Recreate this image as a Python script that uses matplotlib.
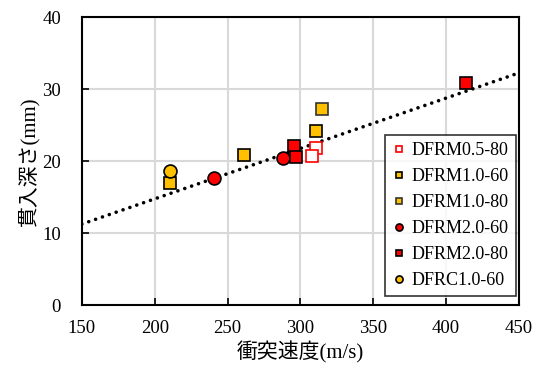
import matplotlib
matplotlib.use("Agg")
import matplotlib.pyplot as plt
import numpy as np

# Impact velocity (m/s) and penetration depth (mm) per specimen series
dfrm05_80_v = [310.5, 308.0]
dfrm05_80_d = [21.8, 20.7]
dfrm10_60_v = [210.5, 261.0, 311.0]
dfrm10_60_d = [17.0, 20.9, 24.2]
dfrm10_80_v = [315.0]
dfrm10_80_d = [27.2]
dfrm20_60_v = [240.5, 288.3]
dfrm20_60_d = [17.7, 20.4]
dfrm20_80_v = [295.5, 296.8, 414.0]
dfrm20_80_d = [22.1, 20.5, 30.9]
dfrc10_60_v = [210.5]
dfrc10_60_d = [18.6]

# Linear trend line coefficients (depth = slope * velocity + intercept)
trend_slope = 0.0700
trend_intercept = 0.75
trend_range = [150, 450]

xticks = [150, 200, 250, 300, 350, 400, 450]
yticks = [0, 10, 20, 30, 40]

plt.rcParams['font.family'] = ['Liberation Serif', 'Noto Sans CJK JP']

fig = plt.figure(figsize=(5.35, 3.72), dpi=100)
ax = fig.add_axes([0.153, 0.180, 0.817, 0.774])

yellow = '#FFC000'
red = '#FF0000'

tx = np.array(trend_range, dtype=float)
ax.plot(tx, trend_slope * tx + trend_intercept, color='black', linestyle=(0, (0.01, 2.0)),
        linewidth=2.6, dash_capstyle='round', zorder=2)

ms = 8.5
ax.plot(dfrm05_80_v, dfrm05_80_d, 's', ms=ms, mfc='white', mec=red, mew=1.2,
        label='DFRM0.5-80', zorder=3)
ax.plot(dfrm10_60_v, dfrm10_60_d, 's', ms=ms, mfc=yellow, mec='black', mew=1.2,
        label='DFRM1.0-60', zorder=3)
ax.plot(dfrm10_80_v, dfrm10_80_d, 's', ms=ms, mfc=yellow, mec='#333333', mew=1.2,
        label='DFRM1.0-80', zorder=3)
ax.plot(dfrm20_60_v, dfrm20_60_d, 'o', ms=ms + 0.8, mfc=red, mec='black', mew=1.2,
        label='DFRM2.0-60', zorder=3)
ax.plot(dfrm20_80_v, dfrm20_80_d, 's', ms=ms, mfc=red, mec='black', mew=1.2,
        label='DFRM2.0-80', zorder=3)
ax.plot(dfrc10_60_v, dfrc10_60_d, 'o', ms=ms + 0.8, mfc=yellow, mec='black', mew=1.2,
        label='DFRC1.0-60', zorder=3)

ax.set_xlim(150, 450)
ax.set_ylim(0, 40)
ax.set_xticks(xticks)
ax.set_yticks(yticks)
ax.grid(True, color='#d9d9d9', linewidth=1.5, zorder=0)
ax.set_axisbelow(True)
for s in ax.spines.values():
    s.set_linewidth(1.5)
    s.set_color('black')
ax.tick_params(direction='in', length=5, width=1.2, labelsize=13.5)
ax.tick_params(axis='x', pad=11)
ax.tick_params(axis='y', pad=15)

ax.set_xlabel('衝突速度(m/s)', fontsize=15, labelpad=3)
ax.set_ylabel('貫入深さ(mm)', fontsize=15, labelpad=2)

leg = ax.legend(loc='lower right', bbox_to_anchor=(0.993, 0.03), fontsize=13,
                frameon=True, fancybox=False, edgecolor='black', markerscale=0.55,
                handlelength=0.7, handletextpad=0.35, borderpad=0.4, labelspacing=0.5,
                borderaxespad=0)
leg.get_frame().set_linewidth(1.2)

fig.savefig('out.png', dpi=100)
